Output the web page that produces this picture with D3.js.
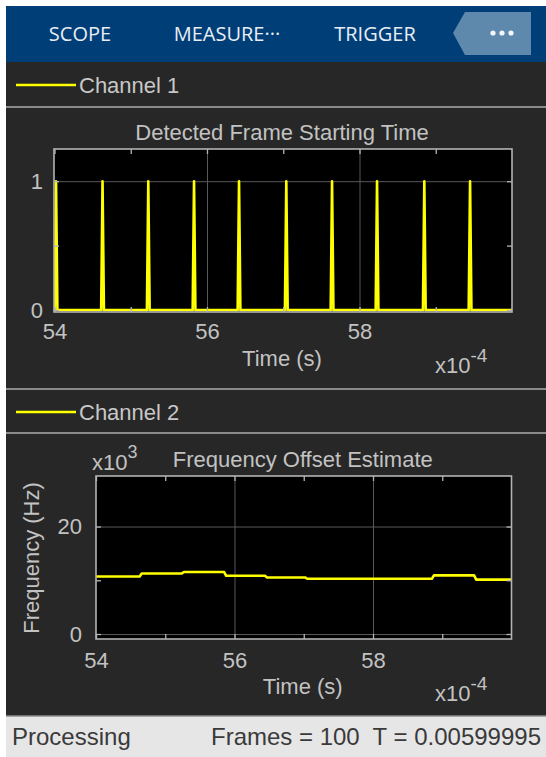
<!DOCTYPE html>
<html lang="en">

<head>
    <meta charset="UTF-8" />
    <title>Scope - Frame Start and Frequency Offset</title>
    <script src="https://d3js.org/d3.v7.min.js"></script>
    <style>
        html, body {
            margin: 0;
            padding: 0;
            background: #fff;
        }

        svg text {
            font-family: "Liberation Sans", Arial, sans-serif;
        }
    </style>
</head>

<body>
    <div id="chart"></div>

    <script>
        // toolbar + legend text
        const menuItems = ["SCOPE", "MEASURE\u00b7\u00b7\u00b7", "TRIGGER"];
        const channelNames = ["Channel 1", "Channel 2"];

        // Channel 1 : detected frame starts (time in x10^-4 s)
        const frameStartTimes = [54.02, 54.63, 55.23, 55.83, 56.42, 57.04, 57.64, 58.23, 58.85, 59.45];
        const frameDetected = [1, 1, 1, 1, 1, 1, 1, 1, 1, 1];

        // Channel 2 : frequency offset estimate per frame (x10^3 Hz)
        const freqFrameTimes = [54.0, 54.63, 55.24, 55.85, 56.44, 57.02, 57.63, 58.23, 58.85, 59.46];
        const freqEstimate = [10.7, 11.27, 11.53, 10.84, 10.52, 10.28, 10.28, 10.28, 10.9, 10.12];

        // ticks
        const xTicks = [54, 55, 56, 57, 58, 59];
        const xLabelTicks = [54, 56, 58];
        const xGrid = [56, 58];
        const y1Ticks = [0, 0.5, 1];
        const y1Labels = [0, 1];
        const y2Ticks = [0, 10, 20];
        const y2Labels = [0, 20];

        const W = 546, H = 757;
        const textCol = "#c2c2c2";
        const yellow = "#ffff00";
        const fs = "22px";

        const svg = d3.select("#chart")
            .append("svg")
            .attr("width", W)
            .attr("height", H);

        // panels
        svg.append("rect").attr("x", 6).attr("y", 62).attr("width", W - 6).attr("height", 654).attr("fill", "#272727");
        svg.append("rect").attr("x", 6).attr("y", 6).attr("width", W - 6).attr("height", 56).attr("fill", "#003e78");
        svg.append("rect").attr("x", 6).attr("y", 716).attr("width", W - 6).attr("height", H - 716).attr("fill", "#e6e6e6");
        svg.append("line").attr("x1", 6).attr("x2", W).attr("y1", 716).attr("y2", 716)
            .attr("stroke", "#8e8e8e").attr("stroke-width", 1.5);

        // toolbar
        const menuX = [80, 227, 375];
        menuItems.forEach((m, i) => {
            svg.append("text")
                .attr("x", menuX[i]).attr("y", 41)
                .attr("text-anchor", "middle")
                .style("font-family", "'Open Sans', 'Noto Sans', sans-serif")
                .style("font-size", "20px")
                .attr("fill", "#e8eef4")
                .text(m);
        });
        svg.append("polygon")
            .attr("points", "453,33 465,12 531,12 531,55 465,55")
            .attr("fill", "#5f88ad");
        [493, 502, 511].forEach(cx => {
            svg.append("circle").attr("cx", cx).attr("cy", 33).attr("r", 2.6).attr("fill", "#f4f7fa");
        });

        // separators
        [107, 389, 433].forEach(yy => {
            svg.append("line").attr("x1", 6).attr("x2", W).attr("y1", yy).attr("y2", yy)
                .attr("stroke", "#8a8a8a").attr("stroke-width", 2);
        });

        // channel legends
        const legendY = [85, 412];
        channelNames.forEach((name, i) => {
            svg.append("line").attr("x1", 16).attr("x2", 76)
                .attr("y1", legendY[i]).attr("y2", legendY[i])
                .attr("stroke", yellow).attr("stroke-width", 2.5);
            svg.append("text")
                .attr("x", 79).attr("y", legendY[i] + 8)
                .style("font-size", fs)
                .attr("fill", "#c8c8c8")
                .text(name);
        });

        // status bar
        svg.append("text").attr("x", 12).attr("y", 745)
            .style("font-size", "24px").attr("fill", "#3a3a3a").text("Processing");
        svg.append("text").attr("x", 541).attr("y", 745)
            .attr("text-anchor", "end")
            .style("font-size", "24px").attr("fill", "#3a3a3a")
            .attr("xml:space", "preserve")
            .text("Frames = 100  T = 0.00599995");

        function drawPlot(cfg) {
            const { x, y, box, id } = cfg;
            const g = svg.append("g");

            g.append("rect")
                .attr("x", box.left).attr("y", box.top)
                .attr("width", box.right - box.left).attr("height", box.bottom - box.top)
                .attr("fill", "#000");

            g.append("clipPath").attr("id", id)
                .append("rect")
                .attr("x", box.left).attr("y", box.top)
                .attr("width", box.right - box.left).attr("height", box.bottom - box.top);

            // grid
            g.append("g")
                .attr("transform", `translate(0,${box.bottom})`)
                .call(d3.axisBottom(x).tickValues(xGrid).tickSize(-(box.bottom - box.top)).tickFormat(""))
                .call(a => a.select(".domain").remove())
                .selectAll("line").attr("stroke", "#595959").attr("stroke-width", 1);
            g.append("g")
                .attr("transform", `translate(${box.left},0)`)
                .call(d3.axisLeft(y).tickValues(cfg.yGrid).tickSize(-(box.right - box.left)).tickFormat(""))
                .call(a => a.select(".domain").remove())
                .selectAll("line").attr("stroke", "#595959").attr("stroke-width", 1);

            // data
            g.append("path")
                .datum(cfg.points)
                .attr("clip-path", `url(#${id})`)
                .attr("fill", "none")
                .attr("stroke", yellow)
                .attr("stroke-width", 2.6)
                .attr("stroke-linejoin", "round")
                .attr("d", d3.line().x(d => x(d[0])).y(d => y(d[1])));

            // axes with inside ticks
            const styleAxis = a => {
                a.select(".domain").remove();
                a.selectAll("line").attr("stroke", "#b5b5b5").attr("stroke-width", 1.3);
                a.selectAll("text").attr("fill", textCol).style("font-size", fs)
                    .style("font-family", "'Liberation Sans', Arial, sans-serif");
            };
            g.append("g").attr("transform", `translate(0,${box.bottom})`)
                .call(d3.axisBottom(x).tickValues(xTicks).tickSize(-5).tickPadding(cfg.xPad)
                    .tickFormat(d => xLabelTicks.includes(d) ? d : ""))
                .call(styleAxis);
            g.append("g").attr("transform", `translate(0,${box.top})`)
                .call(d3.axisTop(x).tickValues(xTicks).tickSize(-5).tickFormat(""))
                .call(styleAxis);
            g.append("g").attr("transform", `translate(${box.left},0)`)
                .call(d3.axisLeft(y).tickValues(cfg.yTicks).tickSize(-5).tickPadding(cfg.yPad)
                    .tickFormat(d => cfg.yLabels.includes(d) ? d : ""))
                .call(styleAxis);
            g.append("g").attr("transform", `translate(${box.right},0)`)
                .call(d3.axisRight(y).tickValues(cfg.yTicks).tickSize(-5).tickFormat(""))
                .call(styleAxis);

            // frame
            g.append("rect")
                .attr("x", box.left).attr("y", box.top)
                .attr("width", box.right - box.left).attr("height", box.bottom - box.top)
                .attr("fill", "none").attr("stroke", "#b3b3b3").attr("stroke-width", 1.6);

            // title + x label
            const cx = (box.left + box.right) / 2;
            g.append("text").attr("x", cx - 1).attr("y", cfg.titleY)
                .attr("text-anchor", "middle").attr("fill", textCol)
                .style("font-size", fs).text(cfg.title);
            g.append("text").attr("x", cx - 1).attr("y", cfg.xLabelY)
                .attr("text-anchor", "middle").attr("fill", textCol)
                .style("font-size", fs).text("Time (s)");

            // x exponent
            const ex = g.append("text").attr("x", 435).attr("y", cfg.xLabelY + 7)
                .attr("fill", textCol).style("font-size", fs);
            ex.append("tspan").text("x10");
            ex.append("tspan").attr("dy", -11).style("font-size", "19px").text("-4");
            return g;
        }

        // Plot 1
        const box1 = { left: 54, right: 512, top: 149, bottom: 312 };
        const x1 = d3.scaleLinear().domain([54, 60]).range([54.5, 512]);
        const y1 = d3.scaleLinear().domain([0, 1.25]).range([310, 149]);
        const pts1 = [[53.9, 0]];
        frameStartTimes.forEach((t, i) => {
            pts1.push([t - 0.018, 0], [t, frameDetected[i]], [t + 0.018, 0]);
        });
        pts1.push([60.1, 0]);

        drawPlot({
            id: "clip1", x: x1, y: y1, box: box1, points: pts1,
            yTicks: y1Ticks, yLabels: y1Labels, yGrid: [0, 1],
            xPad: 11, yPad: 11,
            title: "Detected Frame Starting Time", titleY: 140, xLabelY: 366
        });

        // Plot 2
        const box2 = { left: 96, right: 511.5, top: 476, bottom: 639 };
        const x2 = d3.scaleLinear().domain([54, 60]).range([96, 511.5]);
        const y2 = d3.scaleLinear().domain([0, 29.4]).range([634, 476]);
        const pts2 = [];
        freqFrameTimes.forEach((t, i) => {
            const tEnd = i < freqFrameTimes.length - 1 ? freqFrameTimes[i + 1] : 60.1;
            pts2.push([i === 0 ? 53.9 : t + 0.03, freqEstimate[i]], [tEnd, freqEstimate[i]]);
        });

        const g2 = drawPlot({
            id: "clip2", x: x2, y: y2, box: box2, points: pts2,
            yTicks: y2Ticks, yLabels: y2Labels, yGrid: [0, 20],
            xPad: 13, yPad: 14,
            title: "Frequency Offset Estimate", titleY: 467, xLabelY: 694
        });

        // y exponent + y label for plot 2
        const ey = g2.append("text").attr("x", 92).attr("y", 470)
            .attr("fill", textCol).style("font-size", fs);
        ey.append("tspan").text("x10");
        ey.append("tspan").attr("dy", -12).style("font-size", "18px").text("3");

        g2.append("text")
            .attr("transform", "translate(39,558) rotate(-90)")
            .attr("text-anchor", "middle").attr("fill", textCol)
            .style("font-size", fs)
            .text("Frequency (Hz)");
    </script>

</body>

</html>
